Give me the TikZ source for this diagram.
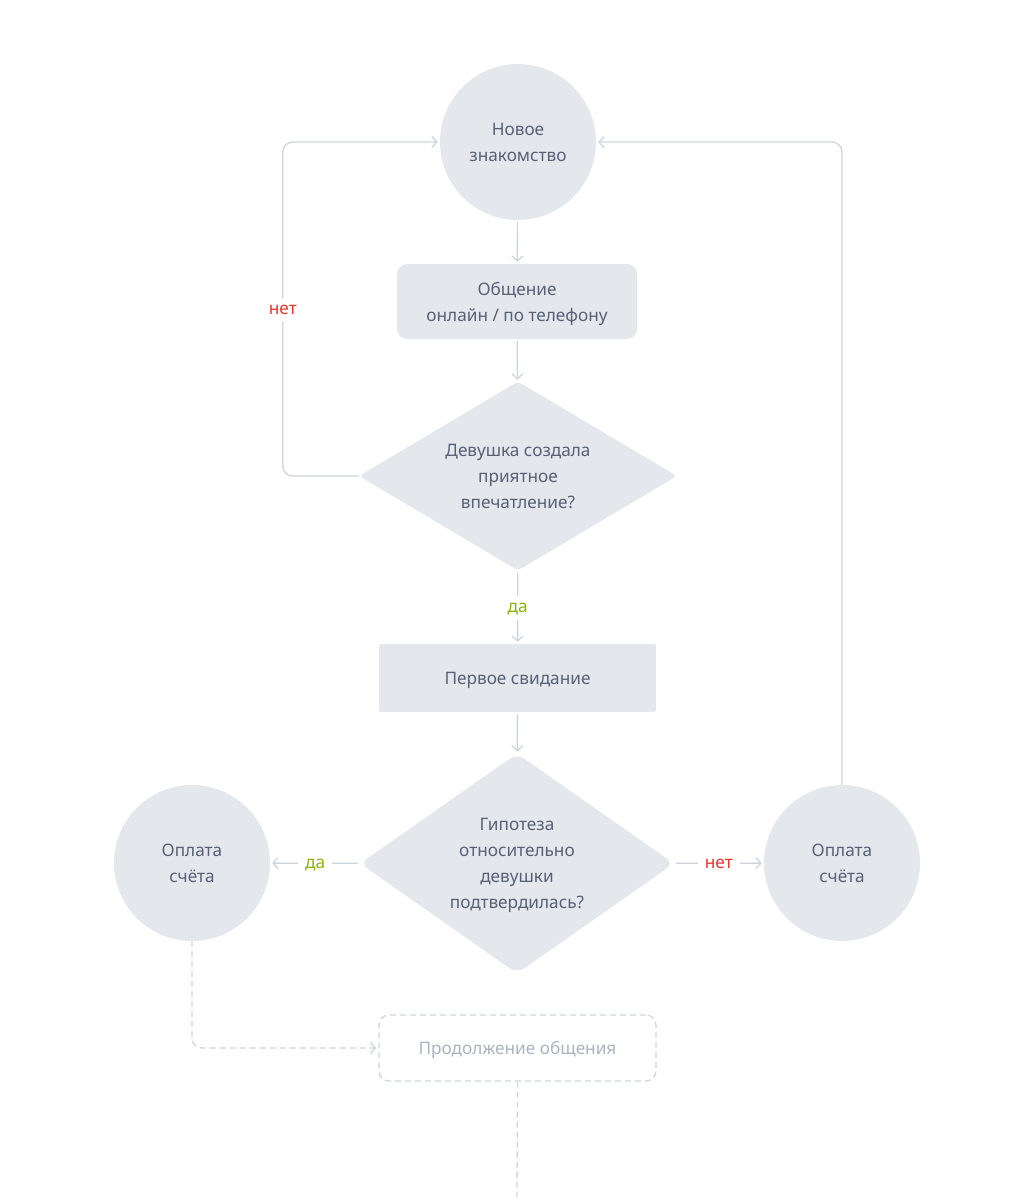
\documentclass[tikz,border=0pt]{standalone}
\usepackage{fontspec}
\setmainfont{Noto Sans}
\usetikzlibrary{shapes.geometric,arrows.meta}
\definecolor{fillc}{HTML}{E4E7EC}
\definecolor{textc}{HTML}{566177}
\definecolor{linec}{HTML}{CDD5DC}
\definecolor{redc}{HTML}{E8352E}
\definecolor{greenc}{HTML}{8AB20A}
\definecolor{fadec}{HTML}{A9B4BE}
\tikzset{
  base/.style={font=\fontsize{17.2}{26}\selectfont, text=textc, align=center, inner sep=0pt, text depth=0pt},
  circ/.style={base, circle, fill=fillc, minimum size=156pt},
  rbox/.style={base, rectangle, fill=fillc, rounded corners=10pt},
  sbox/.style={base, rectangle, fill=fillc, rounded corners=2pt},
  dia/.style={base, diamond, fill=fillc},
  dbox/.style={base, rectangle, draw=linec, line width=1.3pt, dash pattern=on 6pt off 4pt, rounded corners=10pt, text=fadec},
  arr/.style={draw=linec, line width=1.3pt, -{Straight Barb[length=5pt,width=11pt]}, shorten <=2pt, shorten >=2pt},
  darr/.style={arr, dash pattern=on 6pt off 4pt},
  lbl/.style={font=\fontsize{17.2}{20}\selectfont, fill=white, inner sep=7pt, text depth=0pt, yshift=-1pt},
  yes/.style={lbl, text=greenc},
  no/.style={lbl, text=redc},
}
\begin{document}
\begin{tikzpicture}[x=1pt, y=-1pt]
\useasboundingbox (0,0) rectangle (1035,1200);
\node[circ] (new) at (518,142) {Новое\\знакомство};
\node[rbox, minimum width=240pt, minimum height=75pt] (talk) at (517,301.5) {Общение\\онлайн / по телефону};
\node[dia, aspect=1.68, minimum width=318pt, minimum height=189pt, rounded corners=4pt] (d1) at (518,476) {Девушка создала\\приятное\\впечатление?};
\node[sbox, minimum width=277pt, minimum height=68pt] (date) at (517.5,678) {Первое свидание};
\node[dia, aspect=1.42, minimum width=314pt, minimum height=220pt, rounded corners=9pt] (d2) at (517,863.5) {Гипотеза\\относительно\\девушки\\подтвердилась?};
\node[circ] (pl) at (192,863) {Оплата\\счёта};
\node[circ] (pr) at (842,863) {Оплата\\счёта};
\node[dbox, minimum width=277pt, minimum height=66pt] (cont) at (517.5,1048) {Продолжение общения};
\coordinate (end) at (517,1200);

\draw[arr] (new) -- (talk);
\draw[arr] (talk) -- (d1);
\draw[arr] (d1) -- node[yes]{да} (date);
\draw[arr] (date) -- (d2);
\draw[arr] (d2) -- node[yes]{да} (pl);
\draw[arr] (d2) -- node[no]{нет} (pr);
\draw[arr, shorten <=0pt, rounded corners=10pt] (d1.west) -| node[no, pos=0.75]{нет} ([xshift=-157pt]new.west) -- (new.west);
\draw[arr, shorten <=0pt, rounded corners=10pt] (pr.north) |- (new.east);
\draw[darr, shorten <=0pt, rounded corners=10pt] (pl.south) |- (cont.west);
\draw[draw=linec, line width=1.3pt, dash pattern=on 6pt off 4pt] (cont.south) -- (end);
\end{tikzpicture}
\end{document}
